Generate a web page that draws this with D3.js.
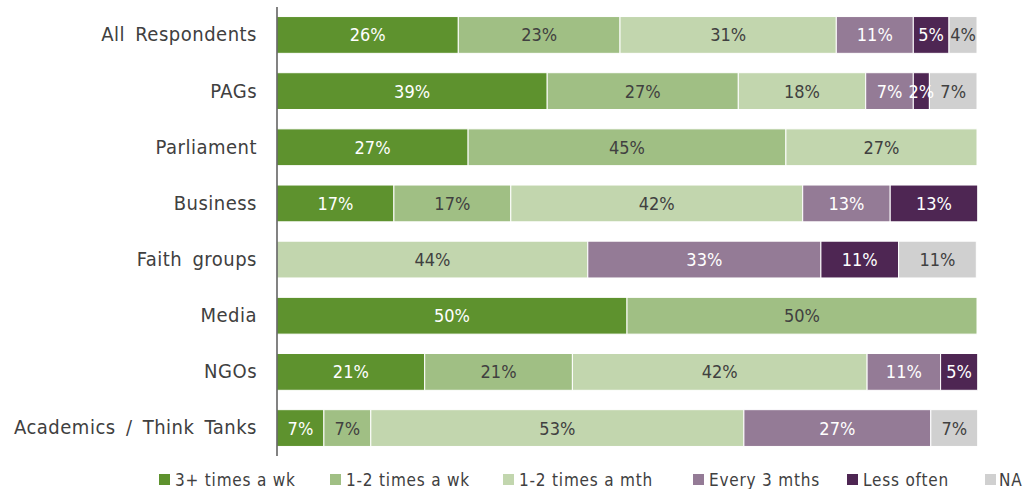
<!DOCTYPE html>
<html><head><meta charset="utf-8">
<script src="https://cdn.jsdelivr.net/npm/d3@7"></script>
<style>body{margin:0;background:#fff}svg{display:block}</style>
</head><body><svg id="c" width="1027" height="489"></svg>
<script>
const categories = ["All Respondents","PAGs","Parliament","Business","Faith groups","Media","NGOs","Academics / Think Tanks"];
const seriesNames = ["3+ times a wk","1-2 times a wk","1-2 times a mth","Every 3 mths","Less often","NA"];
const s3plusWk   = [25.9, 38.6, 27.3, 16.7, 0,    50, 21.1, 6.7];
const s12Wk      = [23.1, 27.3, 45.4, 16.7, 0,    50, 21.1, 6.7];
const s12Mth     = [30.9, 18.2, 27.3, 41.7, 44.4, 0,  42.1, 53.3];
const sEvery3    = [11.0, 6.8,  0,    12.5, 33.3, 0,  10.5, 26.7];
const sLessOften = [5.1,  2.3,  0,    12.5, 11.1, 0,  5.3,  0];
const sNA        = [4.0,  6.8,  0,    0,    11.1, 0,  0,    6.7];
const colors = ["#5e922e","#a0bf84","#c2d6ae","#947b96","#4e2653","#d0d0d0"];
const labelColors = ["#ffffff","#404040","#404040","#ffffff","#ffffff","#404040"];

const series = [s3plusWk,s12Wk,s12Mth,sEvery3,sLessOften,sNA];
const rows = categories.map((c,i)=>{const o={cat:c}; seriesNames.forEach((s,j)=>o[s]=series[j][i]); return o;});
const stack = d3.stack().keys(seriesNames)(rows);

const svg = d3.select("#c");
const font = "'DejaVu Sans Condensed','DejaVu Sans',sans-serif";
const x = d3.scaleLinear().domain([0,100]).range([277,977]);
const y = d3.scaleBand().domain(categories).range([7,456]).paddingInner(0.345).paddingOuter(0.17);

stack.forEach((layer,j)=>{
  const g = svg.append("g");
  layer.forEach((d,i)=>{
    const v = d[1]-d[0];
    if (v<=0) return;
    const cat = categories[i];
    g.append("rect").attr("x",x(d[0])).attr("y",y(cat)).attr("width",x(d[1])-x(d[0])).attr("height",y.bandwidth())
      .attr("fill",colors[j]).attr("stroke","#fff").attr("stroke-width",1);
  });
});
stack.forEach((layer,j)=>{
  const g = svg.append("g");
  layer.forEach((d,i)=>{
    const v = d[1]-d[0];
    if (v<=0) return;
    const cat = categories[i];
    g.append("text").attr("x",(x(d[0])+x(d[1]))/2).attr("y",y(cat)+y.bandwidth()/2).attr("dy","0.36em")
      .attr("text-anchor","middle").attr("font-family",font).attr("font-size",18).attr("fill",labelColors[j])
      .text(Math.round(v)+"%");
  });
});

const yAxis = d3.axisLeft(y).tickSize(0).tickPadding(20);
const ga = svg.append("g").attr("transform","translate(277,0)").call(yAxis);
ga.select(".domain").attr("stroke","#404040").attr("stroke-width",1.3).attr("d","M0,7V456");
ga.selectAll("text").attr("font-family",font).attr("font-size",20).attr("fill","#404040")
  .attr("letter-spacing","0.5px").attr("word-spacing","4px");

const legendX = [159,330,503,693,847,985];
const lg = svg.append("g");
seriesNames.forEach((s,j)=>{
  lg.append("rect").attr("x",legendX[j]).attr("y",474).attr("width",11).attr("height",11).attr("fill",colors[j]);
  lg.append("text").attr("x",legendX[j]+(j===5?14:16)).attr("y",479.5).attr("dy","0.36em").attr("font-family",font)
    .attr("font-size",17).attr("fill","#404040").attr("letter-spacing","0.8px").text(s);
});
</script></body></html>
